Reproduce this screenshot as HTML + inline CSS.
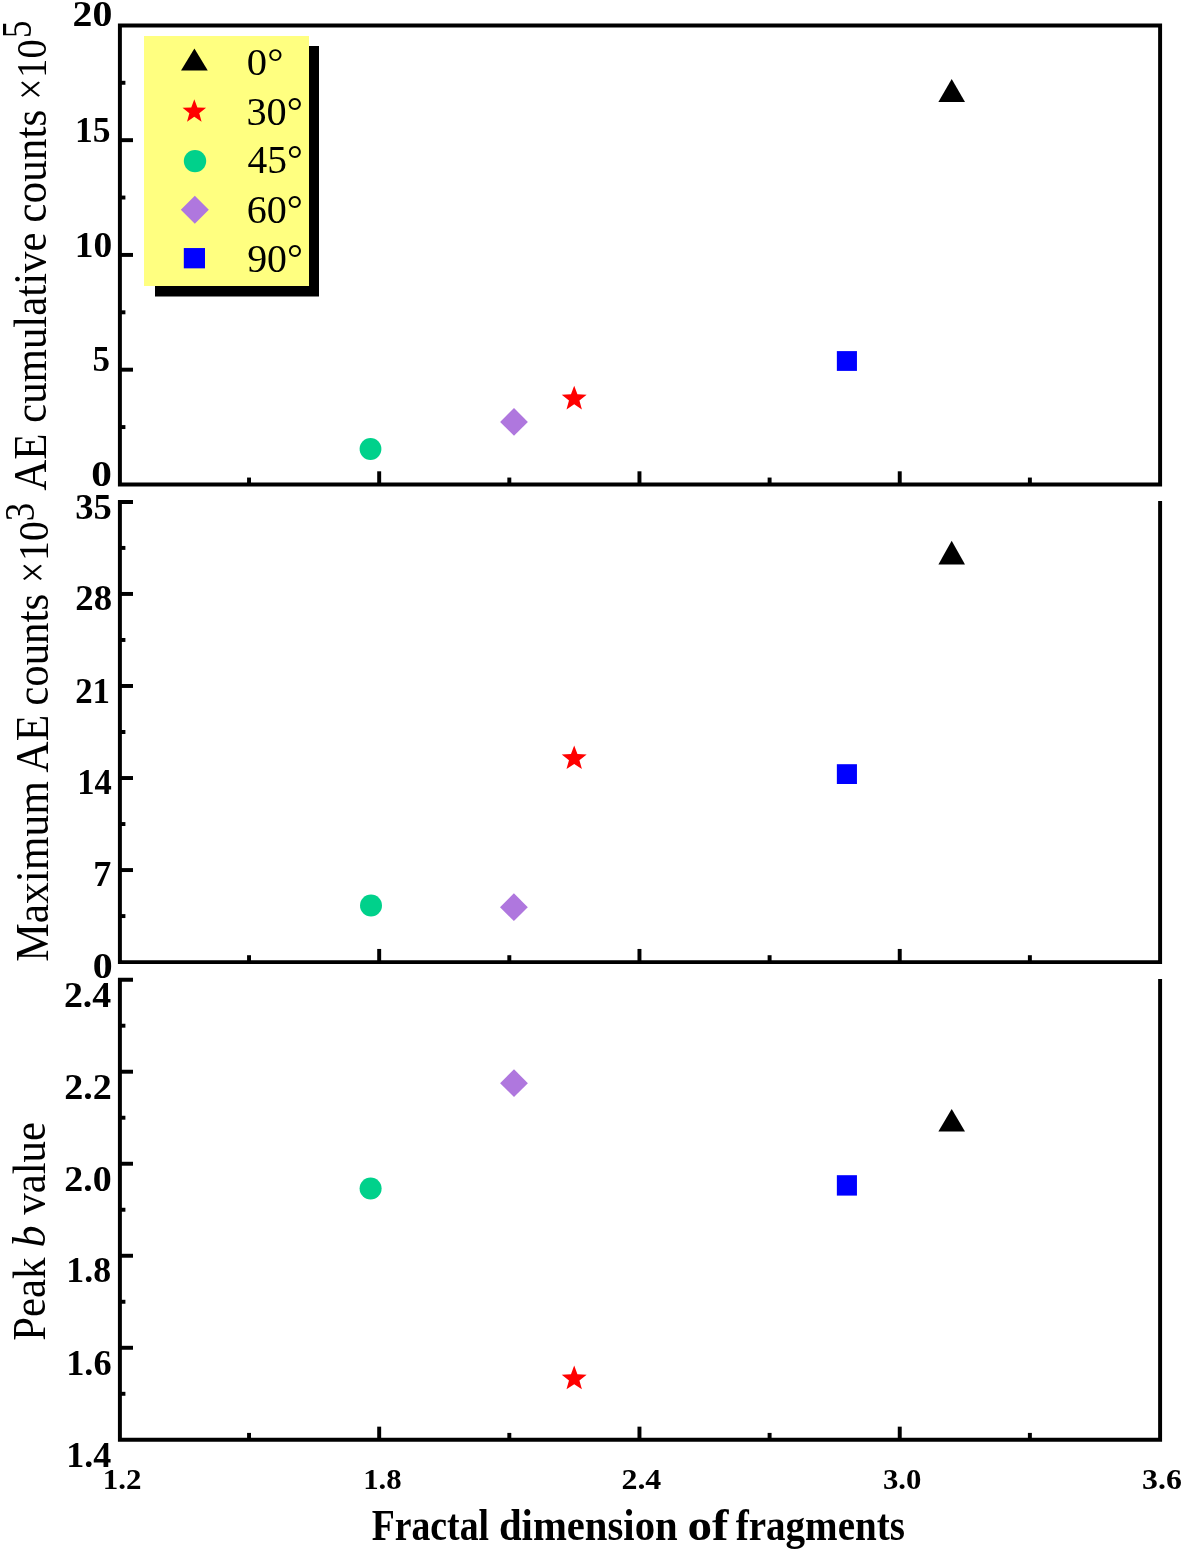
<!DOCTYPE html>
<html><head><meta charset="utf-8"><style>
html,body{margin:0;padding:0;background:#fff;}
body{width:1182px;height:1551px;overflow:hidden;font-family:"Liberation Serif",serif;}
svg{display:block;will-change:transform;}
</style></head><body>
<svg width="1182" height="1551" viewBox="0 0 1182 1551">
<path d="M119.9,484.45 V25.4 H1160.1 V484.45 H119.9 Z" fill="none" stroke="#000" stroke-width="3.95" stroke-linejoin="miter"/>
<path d="M133,501.9 H119.9 V962.1 H1160.1 V501.1" fill="none" stroke="#000" stroke-width="3.95"/>
<path d="M133,979.7 H119.9 V1439.8 H1160.1 V979.1" fill="none" stroke="#000" stroke-width="3.95"/>
<line x1="118" y1="369.69" x2="133" y2="369.69" stroke="#000" stroke-width="3.95"/>
<line x1="118" y1="254.92" x2="133" y2="254.92" stroke="#000" stroke-width="3.95"/>
<line x1="118" y1="140.16" x2="133" y2="140.16" stroke="#000" stroke-width="3.95"/>
<line x1="118" y1="427.07" x2="125.4" y2="427.07" stroke="#000" stroke-width="3.95"/>
<line x1="118" y1="312.31" x2="125.4" y2="312.31" stroke="#000" stroke-width="3.95"/>
<line x1="118" y1="197.54" x2="125.4" y2="197.54" stroke="#000" stroke-width="3.95"/>
<line x1="118" y1="82.78" x2="125.4" y2="82.78" stroke="#000" stroke-width="3.95"/>
<line x1="118" y1="870.06" x2="133" y2="870.06" stroke="#000" stroke-width="3.95"/>
<line x1="118" y1="778.02" x2="133" y2="778.02" stroke="#000" stroke-width="3.95"/>
<line x1="118" y1="685.98" x2="133" y2="685.98" stroke="#000" stroke-width="3.95"/>
<line x1="118" y1="593.94" x2="133" y2="593.94" stroke="#000" stroke-width="3.95"/>
<line x1="118" y1="916.08" x2="125.4" y2="916.08" stroke="#000" stroke-width="3.95"/>
<line x1="118" y1="824.04" x2="125.4" y2="824.04" stroke="#000" stroke-width="3.95"/>
<line x1="118" y1="732.00" x2="125.4" y2="732.00" stroke="#000" stroke-width="3.95"/>
<line x1="118" y1="639.96" x2="125.4" y2="639.96" stroke="#000" stroke-width="3.95"/>
<line x1="118" y1="547.92" x2="125.4" y2="547.92" stroke="#000" stroke-width="3.95"/>
<line x1="118" y1="1347.78" x2="133" y2="1347.78" stroke="#000" stroke-width="3.95"/>
<line x1="118" y1="1255.76" x2="133" y2="1255.76" stroke="#000" stroke-width="3.95"/>
<line x1="118" y1="1163.74" x2="133" y2="1163.74" stroke="#000" stroke-width="3.95"/>
<line x1="118" y1="1071.72" x2="133" y2="1071.72" stroke="#000" stroke-width="3.95"/>
<line x1="118" y1="1393.79" x2="125.4" y2="1393.79" stroke="#000" stroke-width="3.95"/>
<line x1="118" y1="1301.77" x2="125.4" y2="1301.77" stroke="#000" stroke-width="3.95"/>
<line x1="118" y1="1209.75" x2="125.4" y2="1209.75" stroke="#000" stroke-width="3.95"/>
<line x1="118" y1="1117.73" x2="125.4" y2="1117.73" stroke="#000" stroke-width="3.95"/>
<line x1="118" y1="1025.71" x2="125.4" y2="1025.71" stroke="#000" stroke-width="3.95"/>
<line x1="379.18" y1="485.45" x2="379.18" y2="471.30" stroke="#000" stroke-width="3.95"/>
<line x1="639.46" y1="485.45" x2="639.46" y2="471.30" stroke="#000" stroke-width="3.95"/>
<line x1="899.74" y1="485.45" x2="899.74" y2="471.30" stroke="#000" stroke-width="3.95"/>
<line x1="249.04" y1="485.45" x2="249.04" y2="477.55" stroke="#000" stroke-width="3.95"/>
<line x1="509.32" y1="485.45" x2="509.32" y2="477.55" stroke="#000" stroke-width="3.95"/>
<line x1="769.60" y1="485.45" x2="769.60" y2="477.55" stroke="#000" stroke-width="3.95"/>
<line x1="1029.88" y1="485.45" x2="1029.88" y2="477.55" stroke="#000" stroke-width="3.95"/>
<line x1="379.18" y1="963.10" x2="379.18" y2="948.95" stroke="#000" stroke-width="3.95"/>
<line x1="639.46" y1="963.10" x2="639.46" y2="948.95" stroke="#000" stroke-width="3.95"/>
<line x1="899.74" y1="963.10" x2="899.74" y2="948.95" stroke="#000" stroke-width="3.95"/>
<line x1="249.04" y1="963.10" x2="249.04" y2="955.20" stroke="#000" stroke-width="3.95"/>
<line x1="509.32" y1="963.10" x2="509.32" y2="955.20" stroke="#000" stroke-width="3.95"/>
<line x1="769.60" y1="963.10" x2="769.60" y2="955.20" stroke="#000" stroke-width="3.95"/>
<line x1="1029.88" y1="963.10" x2="1029.88" y2="955.20" stroke="#000" stroke-width="3.95"/>
<line x1="379.18" y1="1440.80" x2="379.18" y2="1426.65" stroke="#000" stroke-width="3.95"/>
<line x1="639.46" y1="1440.80" x2="639.46" y2="1426.65" stroke="#000" stroke-width="3.95"/>
<line x1="899.74" y1="1440.80" x2="899.74" y2="1426.65" stroke="#000" stroke-width="3.95"/>
<line x1="249.04" y1="1440.80" x2="249.04" y2="1432.90" stroke="#000" stroke-width="3.95"/>
<line x1="509.32" y1="1440.80" x2="509.32" y2="1432.90" stroke="#000" stroke-width="3.95"/>
<line x1="769.60" y1="1440.80" x2="769.60" y2="1432.90" stroke="#000" stroke-width="3.95"/>
<line x1="1029.88" y1="1440.80" x2="1029.88" y2="1432.90" stroke="#000" stroke-width="3.95"/>
<polygon points="951.70,79.00 965.00,102.00 938.40,102.00" fill="#000"/>
<polygon points="574.20,385.70 577.43,394.35 586.66,394.75 579.43,400.50 581.90,409.40 574.20,404.30 566.50,409.40 568.97,400.50 561.74,394.75 570.97,394.35" fill="#ff0000"/>
<circle cx="370.50" cy="449.00" r="10.90" fill="#00d18b"/>
<polygon points="514.00,408.00 527.90,421.90 514.00,435.80 500.10,421.90" fill="#af77de"/>
<rect x="836.85" y="351.10" width="20.10" height="19.80" fill="#0000ff"/>
<polygon points="951.70,540.70 965.00,564.40 938.40,564.40" fill="#000"/>
<polygon points="574.20,745.40 577.43,754.05 586.66,754.45 579.43,760.20 581.90,769.10 574.20,764.00 566.50,769.10 568.97,760.20 561.74,754.45 570.97,754.05" fill="#ff0000"/>
<rect x="836.85" y="764.20" width="20.10" height="19.80" fill="#0000ff"/>
<circle cx="371.00" cy="905.50" r="11.00" fill="#00d18b"/>
<polygon points="513.90,893.30 527.80,907.20 513.90,921.10 500.00,907.20" fill="#af77de"/>
<polygon points="951.70,1109.00 965.00,1131.50 938.40,1131.50" fill="#000"/>
<polygon points="514.00,1069.30 527.90,1083.20 514.00,1097.10 500.10,1083.20" fill="#af77de"/>
<circle cx="370.60" cy="1188.50" r="11.00" fill="#00d18b"/>
<rect x="836.85" y="1175.20" width="20.10" height="20.40" fill="#0000ff"/>
<polygon points="574.20,1365.60 577.43,1374.25 586.66,1374.65 579.43,1380.40 581.90,1389.30 574.20,1384.20 566.50,1389.30 568.97,1380.40 561.74,1374.65 570.97,1374.25" fill="#ff0000"/>
<rect x="155" y="46" width="164" height="250.5" fill="#000"/>
<rect x="144" y="36" width="165" height="250" fill="#ffff80"/>
<polygon points="194.40,48.40 207.75,70.40 181.05,70.40" fill="#000"/>
<polygon points="194.30,99.20 197.36,107.39 206.09,107.77 199.25,113.21 201.59,121.63 194.30,116.81 187.01,121.63 189.35,113.21 182.51,107.77 191.24,107.39" fill="#ff0000"/>
<circle cx="195.00" cy="161.10" r="11.20" fill="#00d18b"/>
<polygon points="194.80,195.80 208.80,209.80 194.80,223.80 180.80,209.80" fill="#af77de"/>
<rect x="183.80" y="248.05" width="21.20" height="20.30" fill="#0000ff"/>
<text transform="translate(246.86,75.41) scale(1.0408,1)" font-family="Liberation Serif"  font-size="39">0°</text>
<text transform="translate(246.47,125.41) scale(1.0331,1)" font-family="Liberation Serif"  font-size="39">30°</text>
<text transform="translate(247.61,173.41) scale(1.0114,1)" font-family="Liberation Serif"  font-size="39">45°</text>
<text transform="translate(246.67,223.41) scale(1.0292,1)" font-family="Liberation Serif"  font-size="39">60°</text>
<text transform="translate(247.13,271.61) scale(1.0206,1)" font-family="Liberation Serif"  font-size="39">90°</text>
<text transform="translate(72.53,25.64) scale(1.1206,1)" font-family="Liberation Serif" font-weight="bold" font-size="35.5">20</text>
<text transform="translate(74.96,141.55) scale(1.0017,1)" font-family="Liberation Serif" font-weight="bold" font-size="35.5">15</text>
<text transform="translate(74.81,256.75) scale(1.0539,1)" font-family="Liberation Serif" font-weight="bold" font-size="35.5">10</text>
<text transform="translate(92.60,370.75) scale(0.9856,1)" font-family="Liberation Serif" font-weight="bold" font-size="35.5">5</text>
<text transform="translate(91.33,485.84) scale(1.1626,1)" font-family="Liberation Serif" font-weight="bold" font-size="35.5">0</text>
<text transform="translate(75.21,518.54) scale(1.0293,1)" font-family="Liberation Serif" font-weight="bold" font-size="35.5">35</text>
<text transform="translate(75.26,610.14) scale(1.0354,1)" font-family="Liberation Serif" font-weight="bold" font-size="35.5">28</text>
<text transform="translate(75.14,702.50) scale(0.9825,1)" font-family="Liberation Serif" font-weight="bold" font-size="35.5">21</text>
<text transform="translate(77.34,793.70) scale(0.9723,1)" font-family="Liberation Serif" font-weight="bold" font-size="35.5">14</text>
<text transform="translate(93.15,885.80) scale(1.0152,1)" font-family="Liberation Serif" font-weight="bold" font-size="35.5">7</text>
<text transform="translate(92.79,978.44) scale(1.1228,1)" font-family="Liberation Serif" font-weight="bold" font-size="35.5">0</text>
<text transform="translate(63.91,1007.10) scale(1.0685,1)" font-family="Liberation Serif" font-weight="bold" font-size="35.5">2.4</text>
<text transform="translate(64.30,1099.00) scale(1.0736,1)" font-family="Liberation Serif" font-weight="bold" font-size="35.5">2.2</text>
<text transform="translate(64.31,1190.60) scale(1.0690,1)" font-family="Liberation Serif" font-weight="bold" font-size="35.5">2.0</text>
<text transform="translate(66.34,1282.40) scale(1.0083,1)" font-family="Liberation Serif" font-weight="bold" font-size="35.5">1.8</text>
<text transform="translate(66.19,1374.60) scale(1.0246,1)" font-family="Liberation Serif" font-weight="bold" font-size="35.5">1.6</text>
<text transform="translate(66.22,1466.50) scale(1.0157,1)" font-family="Liberation Serif" font-weight="bold" font-size="35.5">1.4</text>
<text transform="translate(102.82,1488.78) scale(1.0322,1)" font-family="Liberation Serif" font-weight="bold" font-size="30">1.2</text>
<text transform="translate(363.14,1488.78) scale(1.0261,1)" font-family="Liberation Serif" font-weight="bold" font-size="30">1.8</text>
<text transform="translate(621.46,1488.78) scale(1.0625,1)" font-family="Liberation Serif" font-weight="bold" font-size="30">2.4</text>
<text transform="translate(882.93,1488.78) scale(1.0250,1)" font-family="Liberation Serif" font-weight="bold" font-size="30">3.0</text>
<text transform="translate(1142.09,1488.78) scale(1.0623,1)" font-family="Liberation Serif" font-weight="bold" font-size="30">3.6</text>
<text transform="translate(371.66,1539.50) scale(0.8677,1)" font-family="Liberation Serif" font-weight="bold" font-size="43.5">Fractal</text>
<text transform="translate(498.93,1539.50) scale(0.9362,1)" font-family="Liberation Serif" font-weight="bold" font-size="43.5">dimension</text>
<text transform="translate(687.43,1539.50) scale(1.1309,1)" font-family="Liberation Serif" font-weight="bold" font-size="43.5">of</text>
<text transform="translate(735.73,1539.50) scale(0.8979,1)" font-family="Liberation Serif" font-weight="bold" font-size="43.5">fragments</text>
<text transform="translate(45.74,490.73) rotate(-90) scale(0.9319,1)" font-family="Liberation Serif"  font-size="46">AE cumulative</text>
<text transform="translate(45.74,222.64) rotate(-90) scale(0.9400,1)" font-family="Liberation Serif"  font-size="46">counts</text>
<text transform="translate(46.00,99.87) rotate(-90) scale(0.8172,1)" font-family="Liberation Serif"  font-size="46">×</text>
<text transform="translate(45.77,77.89) rotate(-90) scale(0.8967,1)" font-family="Liberation Serif"  font-size="43">10</text>
<text transform="translate(30.57,38.11) rotate(-90) scale(0.8079,1)" font-family="Liberation Serif"  font-size="43">5</text>
<text transform="translate(47.74,961.86) rotate(-90) scale(0.9431,1)" font-family="Liberation Serif"  font-size="46">Maximum AE</text>
<text transform="translate(47.74,705.83) rotate(-90) scale(0.9331,1)" font-family="Liberation Serif"  font-size="46">counts</text>
<text transform="translate(48.00,582.97) rotate(-90) scale(0.8172,1)" font-family="Liberation Serif"  font-size="46">×</text>
<text transform="translate(47.97,560.89) rotate(-90) scale(0.9233,1)" font-family="Liberation Serif"  font-size="43">10</text>
<text transform="translate(34.27,521.28) rotate(-90) scale(0.8615,1)" font-family="Liberation Serif"  font-size="43">3</text>
<text transform="translate(45.14,1340.74) rotate(-90) scale(0.9309,1)" font-family="Liberation Serif"  font-size="46">Peak</text>
<text transform="translate(45.34,1247.31) rotate(-90) scale(0.9439,1)" font-family="Liberation Serif" font-style="italic" font-size="46">b</text>
<text transform="translate(45.14,1214.70) rotate(-90) scale(0.9304,1)" font-family="Liberation Serif"  font-size="46">value</text>
</svg>
</body></html>
